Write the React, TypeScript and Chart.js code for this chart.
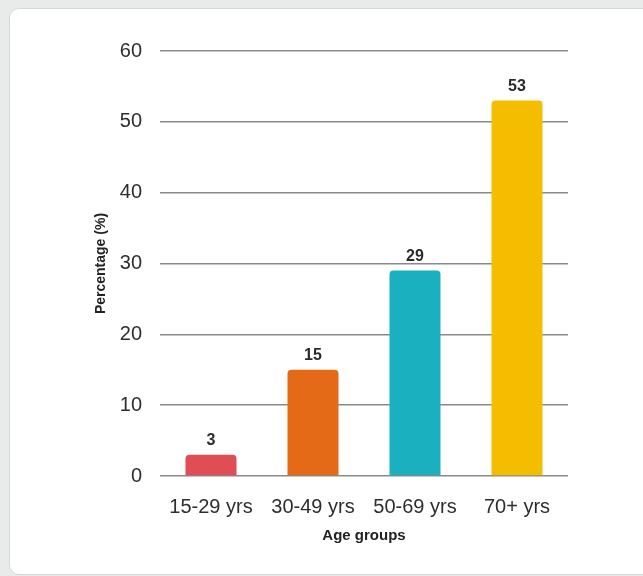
import React, { useEffect, useRef } from "react";
import { Chart, registerables } from "chart.js";

Chart.register(...registerables);

const categories = ["15-29 yrs", "30-49 yrs", "50-69 yrs", "70+ yrs"];
const values = [3, 15, 29, 53];
const barColors = ["#e04e55", "#e46a17", "#1ab0c0", "#f5bd00"];
const yTicks = [0, 10, 20, 30, 40, 50, 60];
const yTitle = "Percentage (%)";
const xTitle = "Age groups";

const FONT = "'Liberation Sans', Arial, sans-serif";

const valueLabels = {
  id: "valueLabels",
  afterDatasetsDraw(chart: any) {
    const ctx = chart.ctx;
    const meta = chart.getDatasetMeta(0);
    ctx.save();
    ctx.font = `bold 16px ${FONT}`;
    ctx.fillStyle = "#2b2b2b";
    ctx.textAlign = "center";
    ctx.textBaseline = "alphabetic";
    meta.data.forEach((bar: any, i: number) => {
      ctx.fillText(String(values[i]), bar.x, bar.y - 10);
    });
    ctx.restore();
  },
};

export default function App() {
  const ref = useRef<HTMLCanvasElement>(null);
  useEffect(() => {
    if (!ref.current) return;
    const chart = new Chart(ref.current, {
      type: "bar",
      data: {
        labels: categories,
        datasets: [
          {
            data: values,
            backgroundColor: barColors,
            borderRadius: { topLeft: 4, topRight: 4, bottomLeft: 0, bottomRight: 0 },
            borderSkipped: false,
            barPercentage: 0.5,
            categoryPercentage: 1,
          },
        ],
      },
      options: {
        animation: false,
        responsive: false,
        maintainAspectRatio: false,
        devicePixelRatio: 1,
        layout: { padding: { left: 89, right: 75, top: 51, bottom: 27 } },
        plugins: { legend: { display: false }, tooltip: { enabled: false } },
        scales: {
          x: {
            grid: { display: false, drawTicks: false },
            border: { display: false },
            ticks: { color: "#2e2e2e", font: { family: FONT, size: 20 }, padding: 19, maxRotation: 0 },
            title: { display: true, text: xTitle, color: "#222", font: { family: FONT, size: 15, weight: "bold" } },
            afterFit(scale: any) {
              scale.height = 73;
            },
          },
          y: {
            min: 0,
            max: 60,
            afterBuildTicks(scale: any) {
              scale.ticks = yTicks.map((v) => ({ value: v }));
            },
            grid: { color: "#8a8a8a", lineWidth: 1.5, drawTicks: false },
            border: { display: false },
            ticks: { color: "#2e2e2e", font: { family: FONT, size: 20 }, padding: 18 },
            title: { display: true, text: yTitle, color: "#222", font: { family: FONT, size: 14, weight: "bold" } },
            afterFit(scale: any) {
              scale.width = 71;
            },
          },
        },
      },
      plugins: [valueLabels],
    } as any);
    return () => chart.destroy();
  }, []);

  return (
    <div style={{ position: "fixed", left: 0, top: 0, width: 643, height: 576, background: "#e9ebea", overflow: "hidden" }}>
      <div
        style={{
          position: "absolute",
          left: 9,
          top: 8,
          width: 646,
          height: 567,
          background: "#fff",
          border: "1px solid #d6d9d7",
          borderRadius: 10,
          boxSizing: "border-box",
        }}
      />
      <canvas ref={ref} width={643} height={576} style={{ position: "absolute", left: 0, top: 0, width: 643, height: 576 }} />
    </div>
  );
}
